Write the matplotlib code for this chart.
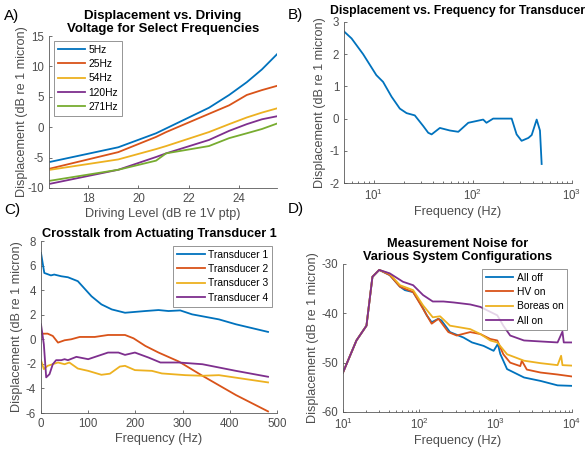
import matplotlib
matplotlib.use("Agg")
import matplotlib.pyplot as plt
import numpy as np

plt.rcParams["font.family"] = ["Liberation Sans", "DejaVu Sans"]
plt.rcParams["mathtext.default"] = "regular"
plt.rcParams["axes.unicode_minus"] = False

BLUE = "#0072BD"
RED = "#D95319"
YELLOW = "#EDB120"
PURPLE = "#7E2F8E"
GREEN = "#77AC30"
AXC = "0.35"

# A) displacement vs driving level
drive_level = [16.5, 19.2, 20.7, 21.1, 22.8, 23.6, 24.3, 24.9, 25.5]
disp_5hz = [-5.7, -3.3, -1.0, -0.2, 3.2, 5.3, 7.4, 9.5, 12.0]
disp_25hz = [-6.8, -4.1, -1.6, -0.8, 2.2, 3.6, 5.3, 6.1, 6.8]
disp_54hz = [-7.0, -5.3, -3.6, -3.1, -0.8, 0.5, 1.6, 2.4, 3.1]
disp_120hz = [-9.3, -7.0, -4.9, -4.3, -2.1, -0.6, 0.5, 1.3, 1.8]
disp_271hz = [-8.8, -7.0, -5.5, -4.3, -3.1, -1.8, -1.0, -0.3, 0.6]
freq_labels = ["5Hz", "25Hz", "54Hz", "120Hz", "271Hz"]

# B) transducer response
resp_freq = [4.95, 5.96, 7.8, 10.6, 12.4, 15.1, 18.3, 21.4, 25.9, 31.5, 35.4, 38.3,
             46.4, 58.6, 71.2, 89.8, 127, 137, 160, 246, 276, 310, 363, 392, 440,
             475, 494]
resp_disp = [2.72, 2.49, 2.0, 1.35, 1.14, 0.68, 0.31, 0.17, 0.1, -0.23, -0.44, -0.49,
             -0.29, -0.37, -0.41, -0.13, -0.03, -0.13, 0.0, 0.0, -0.49, -0.69, -0.6,
             -0.51, -0.03, -0.37, -1.41]

# C) crosstalk
t1_freq = [0, 7, 21, 28, 43, 57, 78, 107, 128, 150, 178, 221, 249, 270, 295, 320,
           377, 413, 481]
t1_disp = [7.03, 5.4, 5.2, 5.27, 5.13, 5.05, 4.73, 3.5, 2.84, 2.43, 2.16, 2.3, 2.38,
           2.3, 2.35, 2.03, 1.62, 1.22, 0.6]
t2_freq = [0, 14, 25, 36, 50, 64, 82, 114, 142, 178, 196, 221, 249, 292, 342, 413, 481]
t2_disp = [0.45, 0.46, 0.27, -0.27, -0.08, 0.0, 0.19, 0.19, 0.35, 0.35, 0.08, -0.54,
           -1.08, -1.81, -2.97, -4.54, -5.87]
t3_freq = [0, 6, 14, 36, 50, 60, 78, 100, 128, 146, 167, 178, 199, 235, 256, 306,
           342, 377, 481]
t3_disp = [-1.7, -2.43, -2.16, -1.89, -2.03, -1.89, -2.38, -2.57, -2.89, -2.8, -2.22,
           -2.16, -2.51, -2.57, -2.78, -2.92, -2.97, -2.92, -3.51]
t4_freq = [0, 6, 11, 18, 25, 32, 43, 50, 57, 75, 100, 121, 142, 164, 178, 199, 228,
           253, 292, 342, 413, 481]
t4_disp = [1.22, -0.4, -3.1, -2.84, -2.03, -1.7, -1.7, -1.62, -1.7, -1.43, -1.62,
           -1.35, -1.08, -1.08, -1.27, -1.08, -1.49, -1.89, -1.89, -2.03, -2.57, -3.05]
trans_labels = ["Transducer 1", "Transducer 2", "Transducer 3", "Transducer 4"]

# D) measurement noise
rise_freq = [10, 15, 20.3, 24.3, 29.8]
rise_disp = [-52.0, -45.5, -42.5, -32.6, -31.2]
off_freq = [41, 55.7, 64.7, 83, 107, 125, 145, 178, 195, 252, 378, 490, 695, 940,
            1067, 1150, 1410, 2350, 3870, 6470, 10000]
off_disp = [-32.25, -34.6, -35.3, -35.7, -38.4, -40.4, -41.8, -41.1, -41.45, -43.8,
            -44.9, -45.9, -46.6, -47.6, -46.2, -48.25, -51.3, -53.0, -53.7, -54.6, -54.7]
hv_freq = [41, 55.7, 83, 112, 145, 178, 240, 309, 464, 630, 850, 1050, 1260, 1550,
           2100, 2200, 2560, 3870, 6470, 10000]
hv_disp = [-32.25, -34.6, -35.7, -39.1, -42.1, -41.1, -43.8, -44.5, -43.8, -44.2,
           -45.2, -45.5, -48.3, -50.0, -50.7, -49.6, -51.4, -52.0, -52.4, -52.8]
boreas_freq = [41, 55.7, 83, 112, 150, 187, 252, 464, 630, 850, 1050, 1410, 2350,
               3870, 6470, 7200, 7500, 10000]
boreas_disp = [-32.0, -34.3, -35.3, -38.4, -40.8, -40.6, -42.5, -43.2, -44.2, -45.5,
               -45.9, -48.3, -49.6, -50.1, -50.5, -48.6, -50.5, -50.6]
allon_freq = [41, 61, 83, 112, 150, 207, 283, 464, 630, 850, 1050, 1260, 1550, 2350,
              3870, 6470, 7500, 7800, 10000]
allon_disp = [-31.9, -33.6, -34.3, -36.3, -37.6, -37.6, -37.8, -38.2, -38.7, -39.7,
              -40.4, -42.5, -44.5, -45.5, -45.7, -45.9, -43.7, -45.9, -45.9]
config_labels = ["All off", "HV on", "Boreas on", "All on"]

W, H = 587, 450
fig = plt.figure(figsize=(W / 100, H / 100), dpi=100)

TICK_FS = 8.3
LABEL_FS = 9.1
TITLE_FS = 9.2
LEG_FS = 7.4


def px_axes(l, t, r, b):
    return fig.add_axes([l / W, 1 - b / H, (r - l) / W, (b - t) / H])


def style(ax):
    for s in ("top", "right"):
        ax.spines[s].set_visible(False)
    for s in ("left", "bottom"):
        ax.spines[s].set_color(AXC)
        ax.spines[s].set_linewidth(0.6)
    ax.tick_params(which="both", direction="in", colors=AXC, labelcolor="0.3",
                   labelsize=TICK_FS, width=0.6)
    ax.tick_params(which="major", length=2.5)
    ax.tick_params(which="minor", length=1.5)
    ax.xaxis.label.set_color("0.3")
    ax.yaxis.label.set_color("0.3")


def add_legend(ax, loc):
    leg = ax.legend(loc=loc, fontsize=LEG_FS, frameon=True, fancybox=False,
                    edgecolor="0.4", handlelength=2.7, borderpad=0.4,
                    labelspacing=0.42, handletextpad=0.3, borderaxespad=0.45)
    leg.get_frame().set_linewidth(0.6)


lw = 1.3
ylab = "Displacement (dB re 1 micron)"

# panel A
axA = px_axes(49, 36, 277, 188)
for ys, c, lab in zip([disp_5hz, disp_25hz, disp_54hz, disp_120hz, disp_271hz],
                      [BLUE, RED, YELLOW, PURPLE, GREEN], freq_labels):
    axA.plot(drive_level, ys, color=c, lw=lw, label=lab)
axA.set_xlim(16.45, 25.5)
axA.set_ylim(-10, 15)
axA.set_xticks([18, 20, 22, 24])
axA.set_yticks([-10, -5, 0, 5, 10, 15])
axA.set_xlabel("Driving Level (dB re 1V ptp)", fontsize=LABEL_FS, labelpad=2)
axA.set_ylabel(ylab, fontsize=LABEL_FS, labelpad=0)
axA.set_title("Displacement vs. Driving\nVoltage for Select Frequencies",
              fontsize=TITLE_FS + 0.3, fontweight="bold", pad=3, linespacing=1.1)
style(axA)
add_legend(axA, "upper left")

# panel B
axB = px_axes(344, 22, 572, 183)
axB.semilogx(resp_freq, resp_disp, color=BLUE, lw=lw)
axB.set_xlim(5, 1000)
axB.set_ylim(-2, 3)
axB.set_yticks([-2, -1, 0, 1, 2, 3])
axB.set_xlabel("Frequency (Hz)", fontsize=LABEL_FS, labelpad=2)
axB.set_ylabel(ylab, fontsize=LABEL_FS, labelpad=2)
axB.set_title("Displacement vs. Frequency for Transducer", fontsize=8.8,
              fontweight="bold", pad=6)
style(axB)

# panel C
axC = px_axes(41, 241, 277, 413)
for xs, ys, c, lab in zip([t1_freq, t2_freq, t3_freq, t4_freq],
                          [t1_disp, t2_disp, t3_disp, t4_disp],
                          [BLUE, RED, YELLOW, PURPLE], trans_labels):
    axC.plot(xs, ys, color=c, lw=lw, label=lab)
axC.set_xlim(0, 500)
axC.set_ylim(-6, 8)
axC.set_yticks(np.arange(-6, 9, 2))
axC.set_xlabel("Frequency (Hz)", fontsize=LABEL_FS, labelpad=2)
axC.set_ylabel(ylab, fontsize=LABEL_FS, labelpad=2)
axC.set_title("Crosstalk from Actuating Transducer 1", fontsize=TITLE_FS,
              fontweight="bold", pad=3)
style(axC)
add_legend(axC, "upper right")

# panel D
axD = px_axes(343, 264, 572, 412)
for xs, ys, c, lab in zip([off_freq, hv_freq, boreas_freq, allon_freq],
                          [off_disp, hv_disp, boreas_disp, allon_disp],
                          [BLUE, RED, YELLOW, PURPLE], config_labels):
    axD.semilogx(rise_freq + xs, rise_disp + ys, color=c, lw=lw, label=lab)
axD.set_xlim(10, 10000)
axD.set_ylim(-60, -30)
axD.set_yticks([-60, -50, -40, -30])
axD.set_xlabel("Frequency (Hz)", fontsize=LABEL_FS, labelpad=2)
axD.set_ylabel(ylab, fontsize=LABEL_FS, labelpad=2)
axD.set_title("Measurement Noise for\nVarious System Configurations",
              fontsize=TITLE_FS, fontweight="bold", pad=3, linespacing=1.1)
style(axD)
add_legend(axD, "upper right")

# panel letters
for x, y, s in [(4, 16, "A)"), (288, 15, "B)"), (4, 210, "C)"), (288, 209, "D)")]:
    fig.text(x / W, 1 - y / H, s, fontsize=11, va="center", ha="left")

fig.savefig("out.png", dpi=100)
